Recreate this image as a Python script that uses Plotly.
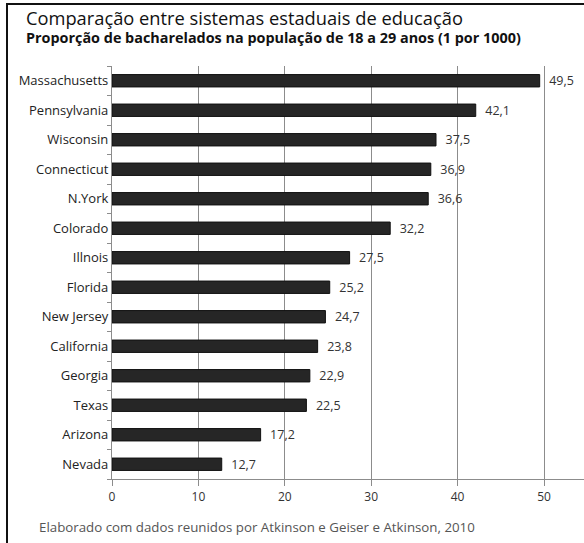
import plotly.graph_objects as go

states = ["Massachusetts", "Pennsylvania", "Wisconsin", "Connecticut", "N.York",
          "Colorado", "Illnois", "Florida", "New Jersey", "California",
          "Georgia", "Texas", "Arizona", "Nevada"]
values = [49.5, 42.1, 37.5, 36.9, 36.6, 32.2, 27.5, 25.2, 24.7, 23.8, 22.9, 22.5, 17.2, 12.7]
x_ticks = [0, 10, 20, 30, 40, 50]

labels = ["\u00a0\u00a0" + f"{v:.1f}".replace(".", ",") for v in values]

FONT = "Open Sans"
L, R, T, B = 112, 0, 66, 64
W, H = 584, 543
PW, PH = W - L - R, H - T - B

fig = go.Figure(go.Bar(
    x=values, y=states, orientation="h",
    width=0.42,
    marker=dict(color="#262626", line=dict(color="#111111", width=1)),
    text=labels, textposition="outside", cliponaxis=False, constraintext="none",
    textfont=dict(family=FONT, size=12.5, color="#333333"),
    hoverinfo="skip",
))

fig.update_layout(
    width=W, height=H,
    margin=dict(l=L, r=R, t=T, b=B, autoexpand=False),
    paper_bgcolor="white", plot_bgcolor="white",
    showlegend=False,
    font=dict(family=FONT, color="#333333"),
    xaxis=dict(
        range=[0, 54.63], tickvals=x_ticks, ticktext=[str(t) for t in x_ticks],
        showgrid=True, gridcolor="#8c8c8c", gridwidth=1.2,
        showline=True, linecolor="#8c8c8c", linewidth=1.2,
        ticks="outside", ticklen=6, tickcolor="#8c8c8c", tickwidth=1.2,
        tickfont=dict(family=FONT, size=12, color="#333333"),
        zeroline=False, fixedrange=True,
    ),
    yaxis=dict(
        categoryorder="array", categoryarray=states[::-1],
        showline=True, linecolor="#8c8c8c", linewidth=1.2,
        ticks="outside", ticklen=4, tickcolor="#8c8c8c", tickson="boundaries",
        tickfont=dict(family=FONT, size=13, color="#222222"),
        showgrid=False, fixedrange=True,
    ),
)

def ann(text, px, py, size, bold=False, color="#111111"):
    x = (px - L) / PW
    y = (H - B - py) / PH
    fig.add_annotation(text=f"<b>{text}</b>" if bold else text, xref="paper", yref="paper",
                       x=x, y=y, xanchor="left", yanchor="middle", showarrow=False,
                       borderpad=0,
                       font=dict(family=FONT, size=size, color=color))

ann("Comparação entre sistemas estaduais de educação", 25, 17, 18.3)
ann("Proporção de bacharelados na população de 18 a 29 anos (1 por 1000)", 25, 38, 14.4, bold=True)
ann("Elaborado com dados reunidos por Atkinson e Geiser e Atkinson, 2010", 38, 527, 13.3, color="#555555")

fig.add_shape(type="rect", xref="paper", yref="paper",
              x0=(7 - L) / PW, x1=(620 - L) / PW,
              y0=(H - B - 600) / PH, y1=(H - B - 4) / PH,
              line=dict(color="#111111", width=2), fillcolor="rgba(0,0,0,0)", layer="above")

fig.write_html("out.html", config={"displayModeBar": False},
               post_script="document.body.style.margin='0';document.body.style.overflow='hidden';")
